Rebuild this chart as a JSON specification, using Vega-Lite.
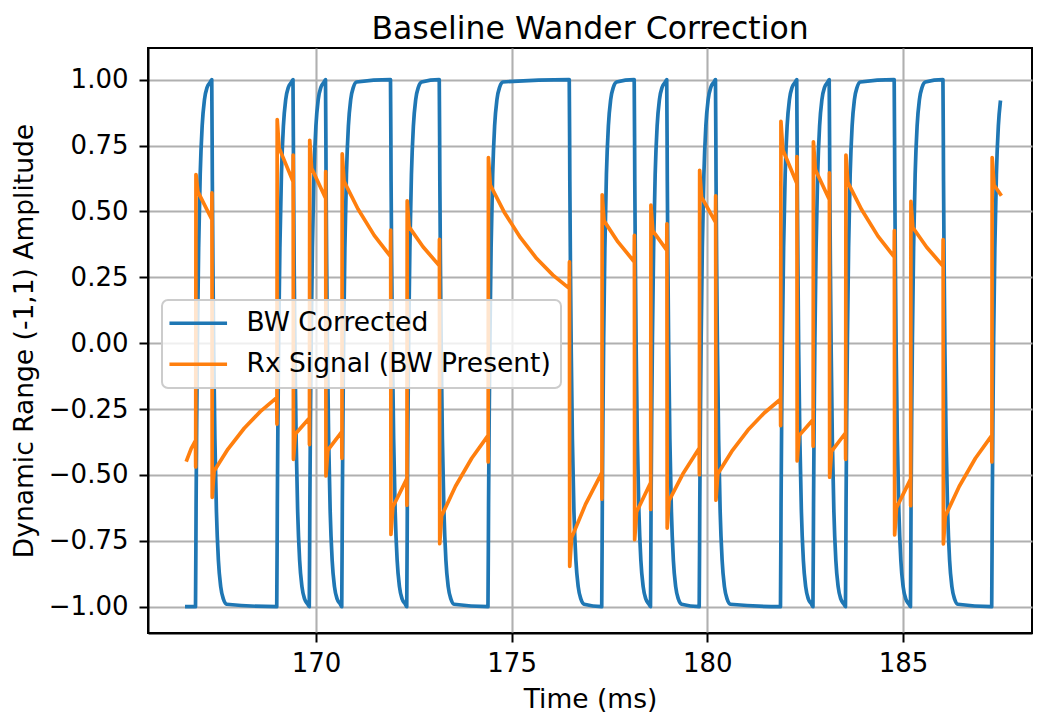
{
"$schema": "https://vega.github.io/schema/vega-lite/v6.json",
"width": 884, "height": 585,
"autosize": {"type": "none"},
"padding": {"left": 148, "top": 48, "right": 8, "bottom": 86},
"title": {"text": "Baseline Wander Correction", "fontSize": 31.5, "font": "DejaVu Sans", "fontWeight": "normal", "color": "black", "offset": 3},
"datasets": {
"bw": [
{"t":166.70,"v":-1},
{"t":166.921,"v":-1},{"t":166.936,"v":-0.614},{"t":166.951,"v":-0.302},{"t":166.971,"v":0.02},{"t":167.001,"v":0.362},{"t":167.041,"v":0.64},{"t":167.091,"v":0.824},{"t":167.151,"v":0.925},{"t":167.221,"v":0.972},{"t":167.301,"v":0.991},
{"t":167.336,"v":1},{"t":167.351,"v":0.614},{"t":167.366,"v":0.302},{"t":167.386,"v":-0.02},{"t":167.416,"v":-0.362},{"t":167.456,"v":-0.64},{"t":167.506,"v":-0.824},{"t":167.566,"v":-0.925},{"t":167.636,"v":-0.972},{"t":167.716,"v":-0.991},
{"t":168.997,"v":-1},{"t":169.012,"v":-0.614},{"t":169.027,"v":-0.302},{"t":169.047,"v":0.02},{"t":169.077,"v":0.362},{"t":169.117,"v":0.64},{"t":169.167,"v":0.824},{"t":169.227,"v":0.925},{"t":169.297,"v":0.972},{"t":169.377,"v":0.991},
{"t":169.412,"v":1},{"t":169.427,"v":0.614},{"t":169.442,"v":0.302},{"t":169.462,"v":-0.02},{"t":169.492,"v":-0.362},{"t":169.532,"v":-0.64},{"t":169.582,"v":-0.824},{"t":169.642,"v":-0.925},{"t":169.712,"v":-0.972},{"t":169.792,"v":-0.991},
{"t":169.828,"v":-1},{"t":169.843,"v":-0.614},{"t":169.858,"v":-0.302},{"t":169.878,"v":0.02},{"t":169.908,"v":0.362},{"t":169.948,"v":0.64},{"t":169.998,"v":0.824},{"t":170.058,"v":0.925},{"t":170.128,"v":0.972},{"t":170.208,"v":0.991},
{"t":170.243,"v":1},{"t":170.258,"v":0.614},{"t":170.273,"v":0.302},{"t":170.293,"v":-0.02},{"t":170.323,"v":-0.362},{"t":170.363,"v":-0.64},{"t":170.413,"v":-0.824},{"t":170.473,"v":-0.925},{"t":170.543,"v":-0.972},{"t":170.623,"v":-0.991},
{"t":170.658,"v":-1},{"t":170.673,"v":-0.614},{"t":170.688,"v":-0.302},{"t":170.708,"v":0.02},{"t":170.738,"v":0.362},{"t":170.778,"v":0.64},{"t":170.828,"v":0.824},{"t":170.888,"v":0.925},{"t":170.958,"v":0.972},{"t":171.038,"v":0.991},
{"t":171.904,"v":1},{"t":171.919,"v":0.614},{"t":171.934,"v":0.302},{"t":171.954,"v":-0.02},{"t":171.984,"v":-0.362},{"t":172.024,"v":-0.64},{"t":172.074,"v":-0.824},{"t":172.134,"v":-0.925},{"t":172.204,"v":-0.972},{"t":172.284,"v":-0.991},
{"t":172.319,"v":-1},{"t":172.334,"v":-0.614},{"t":172.349,"v":-0.302},{"t":172.369,"v":0.02},{"t":172.399,"v":0.362},{"t":172.439,"v":0.64},{"t":172.489,"v":0.824},{"t":172.549,"v":0.925},{"t":172.619,"v":0.972},{"t":172.699,"v":0.991},
{"t":173.15,"v":1},{"t":173.165,"v":0.614},{"t":173.18,"v":0.302},{"t":173.2,"v":-0.02},{"t":173.23,"v":-0.362},{"t":173.27,"v":-0.64},{"t":173.32,"v":-0.824},{"t":173.38,"v":-0.925},{"t":173.45,"v":-0.972},{"t":173.53,"v":-0.991},
{"t":174.395,"v":-1},{"t":174.41,"v":-0.614},{"t":174.425,"v":-0.302},{"t":174.445,"v":0.02},{"t":174.475,"v":0.362},{"t":174.515,"v":0.64},{"t":174.565,"v":0.824},{"t":174.625,"v":0.925},{"t":174.695,"v":0.972},{"t":174.775,"v":0.991},
{"t":176.472,"v":1},{"t":176.487,"v":0.614},{"t":176.502,"v":0.302},{"t":176.522,"v":-0.02},{"t":176.552,"v":-0.362},{"t":176.592,"v":-0.64},{"t":176.642,"v":-0.824},{"t":176.702,"v":-0.925},{"t":176.772,"v":-0.972},{"t":176.852,"v":-0.991},
{"t":177.302,"v":-1},{"t":177.317,"v":-0.614},{"t":177.332,"v":-0.302},{"t":177.352,"v":0.02},{"t":177.382,"v":0.362},{"t":177.422,"v":0.64},{"t":177.472,"v":0.824},{"t":177.532,"v":0.925},{"t":177.602,"v":0.972},{"t":177.682,"v":0.991},
{"t":178.132,"v":1},{"t":178.147,"v":0.614},{"t":178.162,"v":0.302},{"t":178.182,"v":-0.02},{"t":178.212,"v":-0.362},{"t":178.252,"v":-0.64},{"t":178.302,"v":-0.824},{"t":178.362,"v":-0.925},{"t":178.432,"v":-0.972},{"t":178.512,"v":-0.991},
{"t":178.548,"v":-1},{"t":178.563,"v":-0.614},{"t":178.578,"v":-0.302},{"t":178.598,"v":0.02},{"t":178.628,"v":0.362},{"t":178.668,"v":0.64},{"t":178.718,"v":0.824},{"t":178.778,"v":0.925},{"t":178.848,"v":0.972},{"t":178.928,"v":0.991},
{"t":178.963,"v":1},{"t":178.978,"v":0.614},{"t":178.993,"v":0.302},{"t":179.013,"v":-0.02},{"t":179.043,"v":-0.362},{"t":179.083,"v":-0.64},{"t":179.133,"v":-0.824},{"t":179.193,"v":-0.925},{"t":179.263,"v":-0.972},{"t":179.343,"v":-0.991},
{"t":179.793,"v":-1},{"t":179.808,"v":-0.614},{"t":179.823,"v":-0.302},{"t":179.843,"v":0.02},{"t":179.873,"v":0.362},{"t":179.913,"v":0.64},{"t":179.963,"v":0.824},{"t":180.023,"v":0.925},{"t":180.093,"v":0.972},{"t":180.173,"v":0.991},
{"t":180.209,"v":1},{"t":180.224,"v":0.614},{"t":180.239,"v":0.302},{"t":180.259,"v":-0.02},{"t":180.289,"v":-0.362},{"t":180.329,"v":-0.64},{"t":180.379,"v":-0.824},{"t":180.439,"v":-0.925},{"t":180.509,"v":-0.972},{"t":180.589,"v":-0.991},
{"t":181.87,"v":-1},{"t":181.885,"v":-0.614},{"t":181.9,"v":-0.302},{"t":181.92,"v":0.02},{"t":181.95,"v":0.362},{"t":181.99,"v":0.64},{"t":182.04,"v":0.824},{"t":182.1,"v":0.925},{"t":182.17,"v":0.972},{"t":182.25,"v":0.991},
{"t":182.285,"v":1},{"t":182.3,"v":0.614},{"t":182.315,"v":0.302},{"t":182.335,"v":-0.02},{"t":182.365,"v":-0.362},{"t":182.405,"v":-0.64},{"t":182.455,"v":-0.824},{"t":182.515,"v":-0.925},{"t":182.585,"v":-0.972},{"t":182.665,"v":-0.991},
{"t":182.7,"v":-1},{"t":182.715,"v":-0.614},{"t":182.73,"v":-0.302},{"t":182.75,"v":0.02},{"t":182.78,"v":0.362},{"t":182.82,"v":0.64},{"t":182.87,"v":0.824},{"t":182.93,"v":0.925},{"t":183.0,"v":0.972},{"t":183.08,"v":0.991},
{"t":183.115,"v":1},{"t":183.13,"v":0.614},{"t":183.145,"v":0.302},{"t":183.165,"v":-0.02},{"t":183.195,"v":-0.362},{"t":183.235,"v":-0.64},{"t":183.285,"v":-0.824},{"t":183.345,"v":-0.925},{"t":183.415,"v":-0.972},{"t":183.495,"v":-0.991},
{"t":183.531,"v":-1},{"t":183.546,"v":-0.614},{"t":183.561,"v":-0.302},{"t":183.581,"v":0.02},{"t":183.611,"v":0.362},{"t":183.651,"v":0.64},{"t":183.701,"v":0.824},{"t":183.761,"v":0.925},{"t":183.831,"v":0.972},{"t":183.911,"v":0.991},
{"t":184.776,"v":1},{"t":184.791,"v":0.614},{"t":184.806,"v":0.302},{"t":184.826,"v":-0.02},{"t":184.856,"v":-0.362},{"t":184.896,"v":-0.64},{"t":184.946,"v":-0.824},{"t":185.006,"v":-0.925},{"t":185.076,"v":-0.972},{"t":185.156,"v":-0.991},
{"t":185.192,"v":-1},{"t":185.207,"v":-0.614},{"t":185.222,"v":-0.302},{"t":185.242,"v":0.02},{"t":185.272,"v":0.362},{"t":185.312,"v":0.64},{"t":185.362,"v":0.824},{"t":185.422,"v":0.925},{"t":185.492,"v":0.972},{"t":185.572,"v":0.991},
{"t":186.022,"v":1},{"t":186.037,"v":0.614},{"t":186.052,"v":0.302},{"t":186.072,"v":-0.02},{"t":186.102,"v":-0.362},{"t":186.142,"v":-0.64},{"t":186.192,"v":-0.824},{"t":186.252,"v":-0.925},{"t":186.322,"v":-0.972},{"t":186.402,"v":-0.991},
{"t":187.268,"v":-1},{"t":187.283,"v":-0.614},{"t":187.298,"v":-0.302},{"t":187.318,"v":0.02},{"t":187.348,"v":0.362},{"t":187.388,"v":0.64},{"t":187.438,"v":0.824},{"t":187.488,"v":0.914}
],
"rx": [
{"t":166.70,"v":-0.443},{"t":166.81,"v":-0.40},
{"t":166.921,"v":-0.37},{"t":166.926,"v":-0.47},{"t":166.933,"v":0.64},{"t":166.981,"v":0.575},
{"t":167.336,"v":0.47},{"t":167.341,"v":0.57},{"t":167.348,"v":-0.585},{"t":167.396,"v":-0.485},{"t":167.751,"v":-0.402},{"t":168.166,"v":-0.323},{"t":168.581,"v":-0.259},
{"t":168.997,"v":-0.207},{"t":169.002,"v":-0.307},{"t":169.009,"v":0.848},{"t":169.057,"v":0.741},
{"t":169.412,"v":0.614},{"t":169.417,"v":0.714},{"t":169.424,"v":-0.441},{"t":169.472,"v":-0.345},
{"t":169.828,"v":-0.285},{"t":169.833,"v":-0.385},{"t":169.84,"v":0.77},{"t":169.888,"v":0.664},
{"t":170.243,"v":0.551},{"t":170.248,"v":0.651},{"t":170.255,"v":-0.504},{"t":170.303,"v":-0.406},
{"t":170.658,"v":-0.337},{"t":170.663,"v":-0.437},{"t":170.67,"v":0.718},{"t":170.718,"v":0.614},{"t":171.073,"v":0.509},{"t":171.488,"v":0.409},
{"t":171.904,"v":0.329},{"t":171.909,"v":0.429},{"t":171.916,"v":-0.726},{"t":171.964,"v":-0.622},
{"t":172.319,"v":-0.515},{"t":172.324,"v":-0.615},{"t":172.331,"v":0.54},{"t":172.379,"v":0.441},{"t":172.734,"v":0.366},
{"t":173.15,"v":0.294},{"t":173.155,"v":0.394},{"t":173.162,"v":-0.761},{"t":173.21,"v":-0.656},{"t":173.565,"v":-0.543},{"t":173.98,"v":-0.437},
{"t":174.395,"v":-0.351},{"t":174.4,"v":-0.451},{"t":174.407,"v":0.704},{"t":174.455,"v":0.6},{"t":174.81,"v":0.497},{"t":175.225,"v":0.4},{"t":175.64,"v":0.321},{"t":176.056,"v":0.258},
{"t":176.472,"v":0.208},{"t":176.477,"v":0.308},{"t":176.484,"v":-0.847},{"t":176.532,"v":-0.739},{"t":176.887,"v":-0.612},
{"t":177.302,"v":-0.492},{"t":177.307,"v":-0.592},{"t":177.314,"v":0.563},{"t":177.362,"v":0.464},{"t":177.717,"v":0.384},
{"t":178.132,"v":0.309},{"t":178.137,"v":0.409},{"t":178.144,"v":-0.746},{"t":178.192,"v":-0.641},
{"t":178.548,"v":-0.531},{"t":178.553,"v":-0.631},{"t":178.56,"v":0.524},{"t":178.608,"v":0.426},
{"t":178.963,"v":0.353},{"t":178.968,"v":0.453},{"t":178.975,"v":-0.702},{"t":179.023,"v":-0.598},{"t":179.378,"v":-0.496},
{"t":179.793,"v":-0.399},{"t":179.798,"v":-0.499},{"t":179.805,"v":0.656},{"t":179.853,"v":0.554},
{"t":180.209,"v":0.459},{"t":180.214,"v":0.559},{"t":180.221,"v":-0.596},{"t":180.269,"v":-0.496},{"t":180.624,"v":-0.411},{"t":181.039,"v":-0.33},{"t":181.454,"v":-0.265},
{"t":181.87,"v":-0.213},{"t":181.875,"v":-0.313},{"t":181.882,"v":0.842},{"t":181.93,"v":0.734},
{"t":182.285,"v":0.608},{"t":182.29,"v":0.708},{"t":182.297,"v":-0.447},{"t":182.345,"v":-0.351},
{"t":182.7,"v":-0.291},{"t":182.705,"v":-0.391},{"t":182.712,"v":0.764},{"t":182.76,"v":0.659},
{"t":183.115,"v":0.546},{"t":183.12,"v":0.646},{"t":183.127,"v":-0.509},{"t":183.175,"v":-0.411},
{"t":183.531,"v":-0.341},{"t":183.536,"v":-0.441},{"t":183.543,"v":0.714},{"t":183.591,"v":0.61},{"t":183.946,"v":0.506},{"t":184.361,"v":0.406},
{"t":184.776,"v":0.327},{"t":184.781,"v":0.427},{"t":184.788,"v":-0.728},{"t":184.836,"v":-0.624},
{"t":185.192,"v":-0.517},{"t":185.197,"v":-0.617},{"t":185.204,"v":0.538},{"t":185.252,"v":0.439},{"t":185.607,"v":0.364},
{"t":186.022,"v":0.293},{"t":186.027,"v":0.393},{"t":186.034,"v":-0.762},{"t":186.082,"v":-0.657},{"t":186.437,"v":-0.544},{"t":186.852,"v":-0.437},
{"t":187.268,"v":-0.351},{"t":187.273,"v":-0.451},{"t":187.28,"v":0.704},{"t":187.328,"v":0.6},{"t":187.49,"v":0.565}
]
},
"layer": [
{"data": {"name": "bw"},
 "mark": {"type": "line", "strokeWidth": 3.7, "strokeJoin": "round", "strokeCap": "square", "interpolate": "monotone"},
 "encoding": {
  "x": {"field": "t", "type": "quantitative", "title": "Time (ms)",
        "scale": {"domain": [165.707, 188.298], "nice": false, "zero": false},
        "axis": {"values": [170, 175, 180, 185], "format": "d"}},
  "y": {"field": "v", "type": "quantitative", "title": "Dynamic Range (-1,1) Amplitude",
        "scale": {"domain": [-1.1, 1.12], "nice": false, "zero": false},
        "axis": {"values": [-1, -0.75, -0.5, -0.25, 0, 0.25, 0.5, 0.75, 1], "format": ".2f", "labelPadding": 11}},
  "color": {"datum": "BW Corrected",
        "scale": {"domain": ["BW Corrected", "Rx Signal (BW Present)"], "range": ["#1f77b4", "#ff7f0e"]},
        "legend": {"title": null, "orient": "none", "legendX": 14, "legendY": 252}}
 }},
{"data": {"name": "rx"},
 "mark": {"type": "line", "strokeWidth": 3.7, "strokeJoin": "round", "strokeCap": "square"},
 "encoding": {
  "x": {"field": "t", "type": "quantitative"},
  "y": {"field": "v", "type": "quantitative"},
  "color": {"datum": "Rx Signal (BW Present)"}
 }}
],
"config": {
 "font": "DejaVu Sans",
 "view": {"stroke": "black", "strokeWidth": 2},
 "axis": {
  "grid": true, "gridColor": "#b0b0b0", "gridWidth": 2.1, "gridOpacity": 1,
  "domainColor": "black", "domainWidth": 2,
  "tickColor": "black", "tickSize": 9, "tickWidth": 2,
  "labelFont": "DejaVu Sans", "labelFontSize": 26, "labelColor": "black", "labelPadding": 8,
  "labelFlush": false, "labelOverlap": false,
  "titleFont": "DejaVu Sans", "titleFontSize": 26.5, "titleFontWeight": "normal", "titleColor": "black", "titlePadding": 10
 },
 "legend": {
  "zindex": 1,
  "fillColor": "rgba(255,255,255,0.8)", "strokeColor": "#cccccc", "strokeWidth": 2, "cornerRadius": 6,
  "padding": 10, "symbolType": "M-3.6,0H3.6", "symbolSize": 256, "symbolStrokeWidth": 3.7, "symbolOffset": 13,
  "labelFont": "DejaVu Sans", "labelFontSize": 26.5, "labelColor": "black", "labelOffset": 35,
  "rowPadding": 14, "labelLimit": 600
 }
}
}
